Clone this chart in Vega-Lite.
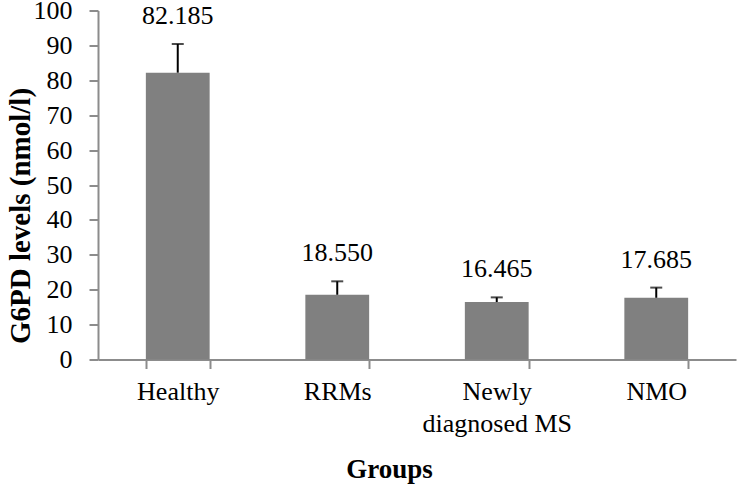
{
  "$schema": "https://vega.github.io/schema/vega-lite/v6.json",
  "autosize": "none",
  "width": 638,
  "height": 349,
  "padding": {"left": 98, "top": 10.5, "right": 1, "bottom": 126.5},
  "background": "white",
  "config": {
    "view": {"stroke": null},
    "font": "Liberation Serif",
    "axisY": {
      "tickCount": 10,
      "labelOverlap": false,
      "labelFont": "Liberation Serif",
      "labelFontSize": 26,
      "labelColor": "black",
      "labelPadding": 17,
      "domainColor": "#8c8c8c",
      "domainWidth": 2,
      "tickColor": "#8c8c8c",
      "tickWidth": 2,
      "tickSize": 9,
      "grid": false,
      "titleFont": "Liberation Serif",
      "titleFontSize": 29,
      "titleFontWeight": "bold",
      "titleColor": "black",
      "titleX": -69,
      "titleY": 205,
      "titleAngle": -90,
      "titleAlign": "center",
      "titleBaseline": "alphabetic"
    }
  },
  "data": {
    "values": [
      {"group": "Healthy", "value": 82.185, "upper": 90.4},
      {"group": "RRMs", "value": 18.55, "upper": 22.4},
      {"group": "Newly diagnosed MS", "value": 16.465, "upper": 17.8},
      {"group": "NMO", "value": 17.685, "upper": 20.6}
    ]
  },
  "encoding": {
    "x": {
      "field": "group",
      "type": "nominal",
      "sort": null,
      "scale": {"paddingInner": 0.6, "paddingOuter": 0.3},
      "axis": {
        "title": "Groups",
        "titleFont": "Liberation Serif",
        "titleFontSize": 27,
        "titleFontWeight": "bold",
        "titleColor": "black",
        "titleX": 291,
        "titleY": 118,
        "titleAlign": "center",
        "titleBaseline": "alphabetic",
        "labelAngle": 0,
        "labelFont": "Liberation Serif",
        "labelFontSize": 26,
        "labelColor": "black",
        "labelPadding": 10,
        "labelLineHeight": 32,
        "labelExpr": "datum.label == 'Newly diagnosed MS' ? ['Newly', 'diagnosed MS'] : datum.label",
        "domainColor": "#8c8c8c",
        "domainWidth": 2,
        "tickColor": "#8c8c8c",
        "tickWidth": 2,
        "tickSize": 9,
        "tickBand": "extent",
        "grid": false
      }
    }
  },
  "layer": [
    {
      "mark": {"type": "bar", "color": "#808080"},
      "encoding": {
        "y": {
          "field": "value",
          "type": "quantitative",
          "scale": {"domain": [0, 100], "nice": false},
          "axis": {"title": "G6PD levels (nmol/l)", "tickCount": 10, "labelOverlap": false}
        }
      }
    },
    {
      "mark": {"type": "rule", "color": "black", "strokeWidth": 2},
      "encoding": {
        "y": {"field": "value", "type": "quantitative", "axis": {"title": "G6PD levels (nmol/l)", "tickCount": 10, "labelOverlap": false}},
        "y2": {"field": "upper"}
      }
    },
    {
      "mark": {"type": "tick", "color": "black", "thickness": 2, "size": 12, "orient": "horizontal"},
      "encoding": {
        "y": {"field": "upper", "type": "quantitative", "axis": {"title": "G6PD levels (nmol/l)", "tickCount": 10, "labelOverlap": false}}
      }
    },
    {
      "mark": {"type": "text", "font": "Liberation Serif", "fontSize": 26, "color": "black", "baseline": "alphabetic", "dy": -20},
      "encoding": {
        "y": {"field": "upper", "type": "quantitative", "axis": {"title": "G6PD levels (nmol/l)", "tickCount": 10, "labelOverlap": false}},
        "text": {"field": "value", "type": "quantitative", "format": ".3f"}
      }
    }
  ]
}
